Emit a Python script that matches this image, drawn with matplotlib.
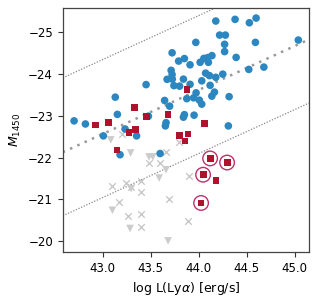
import numpy as np
import matplotlib
matplotlib.use("Agg")
import matplotlib.pyplot as plt

# ---- data ----
blue_x = [44.179, 44.380, 44.529, 44.599, 44.219, 44.279, 44.271, 44.271, 43.971, 44.592,
          45.039, 43.724, 43.792, 43.852, 43.911, 44.016, 44.055, 44.096, 44.139, 44.102,
          44.391, 43.714, 43.724, 44.523, 44.680, 44.073, 44.113, 44.252, 44.179, 43.672,
          43.726, 43.842, 44.033, 44.120, 43.743, 43.802, 43.911, 43.453, 44.165, 44.138,
          43.974, 43.948, 43.877, 44.008, 44.033, 44.318, 43.646, 43.698, 43.852, 43.842,
          43.953, 43.661, 43.654, 44.310, 43.132, 43.154, 43.477, 42.703, 42.821, 43.234,
          43.008, 43.354, 43.182, 43.599]
blue_y = [-25.256, -25.296, -25.215, -25.327, -24.921, -24.921, -24.701, -24.527, -24.747, -24.747,
          -24.802, -24.498, -24.300, -24.360, -24.212, -24.271, -24.365, -24.384, -24.431, -24.271,
          -24.388, -24.080, -23.978, -24.102, -24.157, -24.013, -23.954, -23.989, -23.913, -23.865,
          -23.870, -23.870, -23.829, -23.722, -23.715, -23.703, -23.746, -23.739, -23.560, -23.464,
          -23.543, -23.423, -23.404, -23.368, -23.273, -23.452, -23.361, -23.225, -23.022, -22.962,
          -23.010, -22.831, -22.754, -22.754, -23.440, -23.029, -22.986, -22.874, -22.800, -22.680,
          -22.516, -22.516, -22.066, -22.095]

red_x = [42.924, 43.063, 43.333, 43.460, 43.276, 43.341, 43.151, 43.880, 43.682, 44.060,
         43.800, 43.889, 43.859, 44.182]
red_y = [-22.776, -22.838, -23.201, -22.979, -22.592, -22.659, -22.179, -23.619, -23.022, -22.819,
         -22.516, -22.561, -22.396, -21.457]

circ_x = [44.120, 44.297, 44.047, 44.026]
circ_y = [-21.978, -21.880, -21.589, -20.915]

tri_x = [43.085, 43.292, 43.484, 43.523, 43.102, 43.286, 43.589, 43.661, 43.682, 43.297]
tri_y = [-22.420, -22.107, -22.014, -22.014, -20.741, -20.306, -21.510, -21.708, -20.012, -21.254]

cross_x = [43.201, 43.795, 43.479, 43.599, 43.665, 43.099, 43.243, 43.297, 43.401, 43.401,
           43.174, 43.266, 43.401, 43.401, 43.901, 43.690, 43.891]
cross_y = [-22.556, -22.377, -21.875, -21.870, -22.138, -21.321, -21.402, -21.290, -21.440, -21.187,
           -20.936, -20.616, -20.645, -20.346, -21.558, -21.020, -20.478]

line_slope = -1.049
line_intercepts_at43 = [-22.561, -24.336, -21.044]   # main, upper, lower

xticks = [43.0, 43.5, 44.0, 44.5, 45.0]
yticks = [-25, -24, -23, -22, -21, -20]

# ---- plot ----
fig = plt.figure(figsize=(3.17, 2.98), dpi=100)
ax = fig.add_axes([0.198, 0.155, 0.777, 0.819])
xlim = (42.585, 45.151)
ylim = (-19.75, -25.573)

xx = np.array(xlim)
ax.plot(xx, line_intercepts_at43[0] + line_slope * (xx - 43), ls=(0, (1, 2.2)),
        color='#999999', lw=1.8, zorder=1)
for c in line_intercepts_at43[1:]:
    ax.plot(xx, c + line_slope * (xx - 43), ls=(0, (1, 1.3)), color='#888888', lw=0.9, zorder=1)

ax.scatter(cross_x, cross_y, marker='x', s=22, color='#c4c4c4', linewidths=0.9, zorder=2)
ax.scatter(tri_x, tri_y, marker='v', s=30, color='#cccccc', edgecolors='none', zorder=2)
ax.scatter(blue_x, blue_y, marker='o', s=30, color='#2c86c0', edgecolors='none', zorder=3)
ax.scatter(red_x, red_y, marker='s', s=24, color='#b0122e', edgecolors='none', zorder=4)
ax.scatter(circ_x, circ_y, marker='s', s=24, color='#b0122e', edgecolors='none', zorder=4)
ax.scatter(circ_x, circ_y, marker='o', s=110, facecolors='none', edgecolors='#c0306a',
           linewidths=1.0, zorder=4)

ax.set_xlim(*xlim)
ax.set_ylim(*ylim)
ax.set_xticks(xticks)
ax.set_yticks(yticks)
ax.set_xticklabels([f"{t:.1f}" for t in xticks])
ax.tick_params(labelsize=8.5, length=3.5, width=0.8, color='#333333')
for s in ax.spines.values():
    s.set_color('#444444')
    s.set_linewidth(0.9)

ax.set_xlabel(r'log L(Ly$\alpha$) [erg/s]', fontsize=9)
ax.set_ylabel(r'$M_{1450}$', fontsize=9)

fig.savefig('out.png', dpi=100)
